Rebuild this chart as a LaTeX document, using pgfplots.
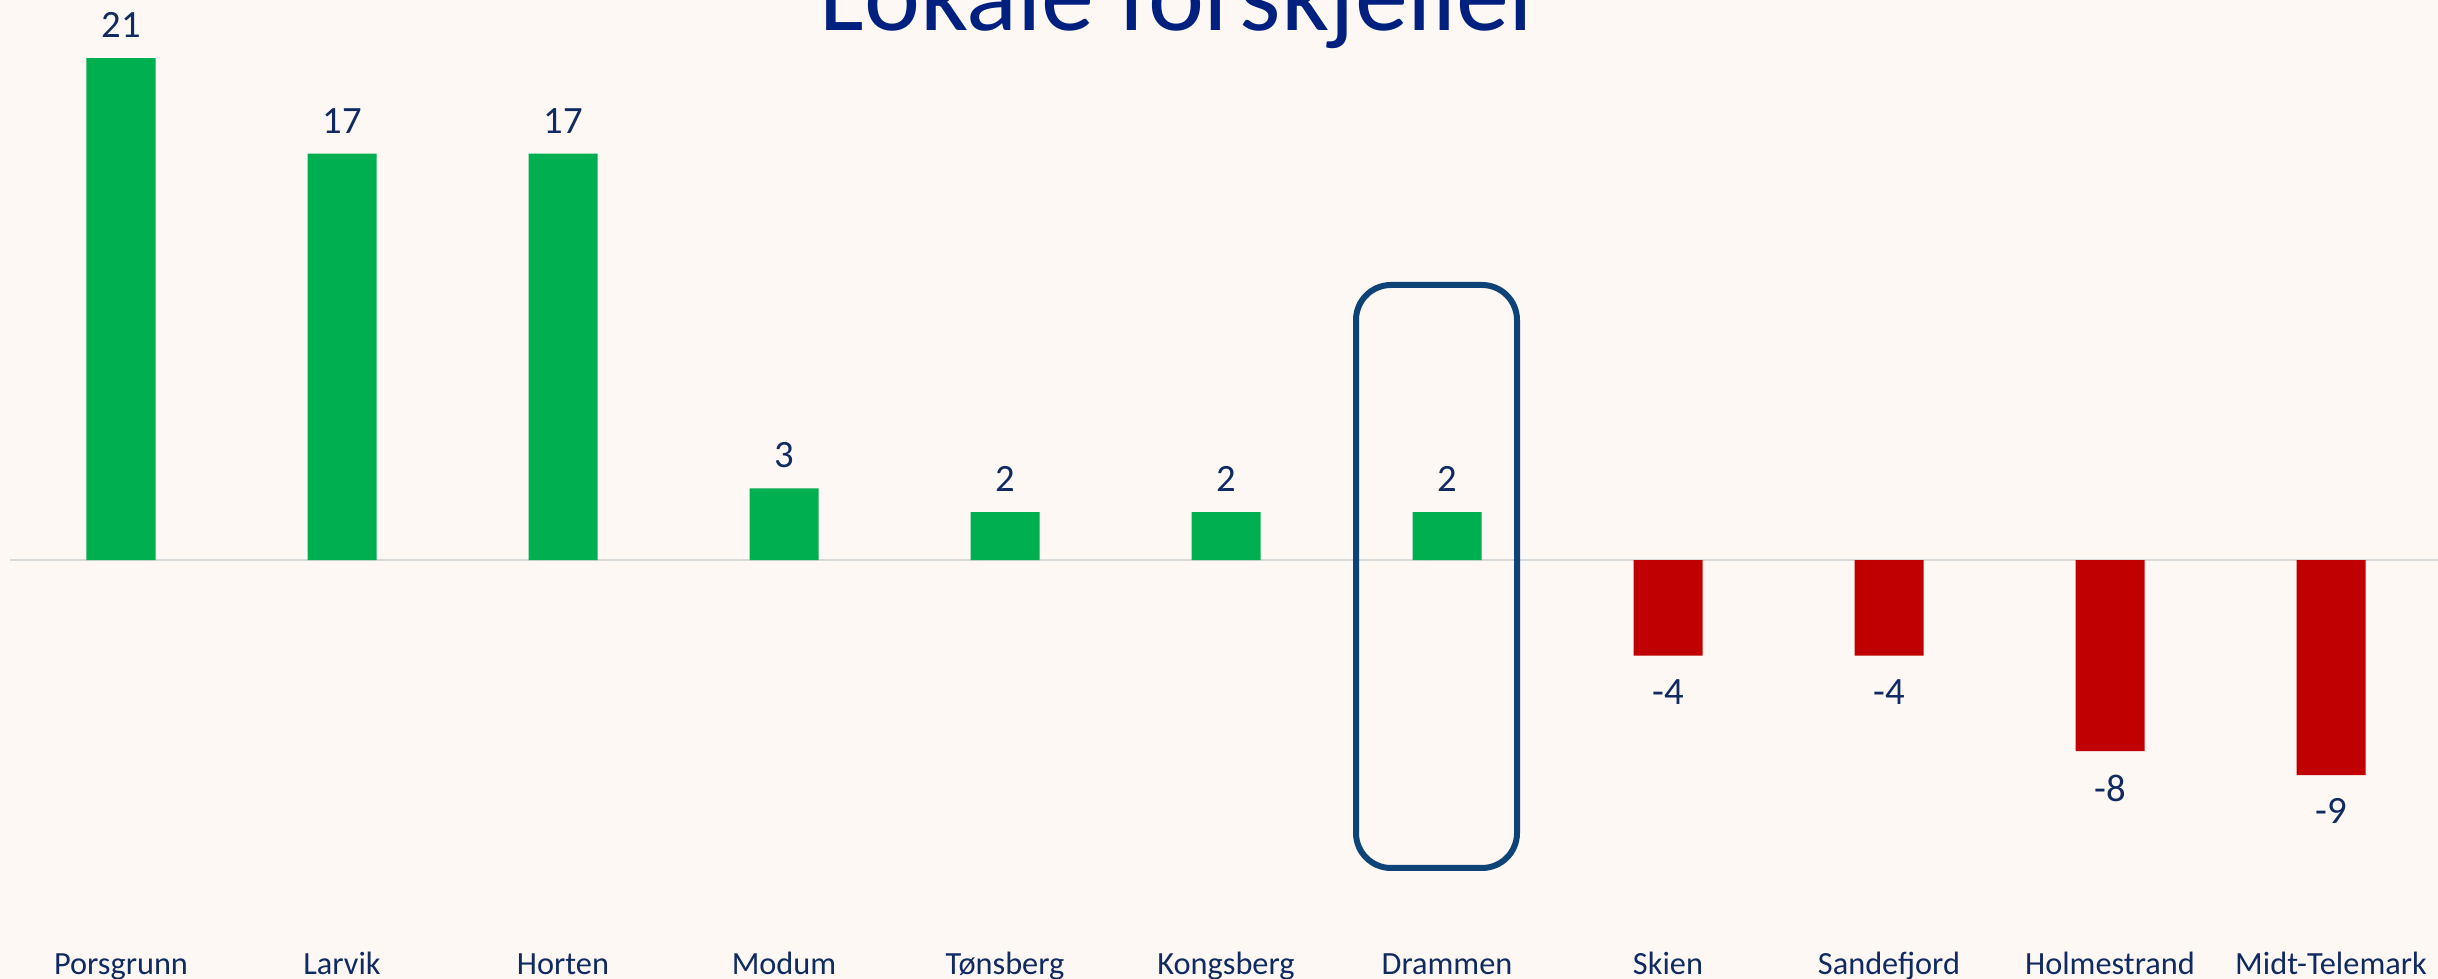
\documentclass[border=0pt]{standalone}
\usepackage{pgfplots}
\pgfplotsset{compat=1.18}
\usepackage{fontspec}
\setmainfont{Carlito}
\definecolor{bg}{HTML}{FDF8F4}
\definecolor{posgreen}{HTML}{00B050}
\definecolor{negred}{HTML}{C00000}
\definecolor{titleblue}{HTML}{002080}
\definecolor{labelnavy}{HTML}{102A62}
\definecolor{boxblue}{HTML}{0E4377}
\definecolor{zeroline}{HTML}{D9D9D9}

\begin{document}
\begin{tikzpicture}
\fill[bg] (0,0) rectangle (24.38cm,9.79cm);
\useasboundingbox (0,0) rectangle (24.38cm,9.79cm);
\node[anchor=base,text=titleblue,font=\fontsize{30.2}{33}\selectfont,inner sep=0]
  at (11.83cm,9.48cm) {Lokale forskjeller};

\begin{axis}[
  at={(0.105cm,1.274cm)},
  anchor=south west,
  x=2.21cm, y=0.239cm,
  xmin=-0.5, xmax=10.5,
  ymin=-12.2, ymax=22,
  axis line style={draw=none},
  major tick length=0pt,
  ytick=\empty,
  xtick={0,...,10},
  xticklabels={Porsgrunn,Larvik,Horten,Modum,Tønsberg,Kongsberg,Drammen,Skien,Sandefjord,Holmestrand,Midt-Telemark},
  xticklabel style={anchor=base,yshift=-12.3mm,text=labelnavy,font=\fontsize{9.2}{11}\selectfont},
  ybar, bar width=0.69cm, bar shift=0pt,
  /pgf/number format/assume math mode=true,
  nodes near coords,
  every node near coord/.append style={text=labelnavy,font=\fontsize{11}{13}\selectfont,inner sep=0pt},
  clip=false,
]
\draw[zeroline,line width=0.25mm] (axis cs:-0.5,0) -- (axis cs:10.5,0);
% positive differences
\addplot[fill=posgreen,draw=none,
  every node near coord/.append style={anchor=south,yshift=2.0mm}]
  coordinates {(0,21) (1,17) (2,17) (3,3) (4,2) (5,2) (6,2)};
% negative differences
\addplot[fill=negred,draw=none,
  every node near coord/.append style={anchor=north,yshift=-2.3mm}]
  coordinates {(7,-4) (8,-4) (9,-8) (10,-9)};
\end{axis}

\draw[boxblue,line width=0.6mm,rounded corners=3.5mm]
  (13.56cm,1.11cm) rectangle (15.17cm,6.94cm);
\end{tikzpicture}
\end{document}
